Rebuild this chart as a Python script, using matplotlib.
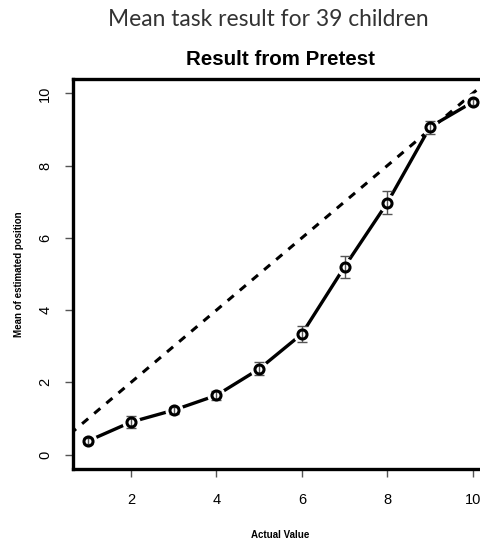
import matplotlib
matplotlib.use("Agg")
import matplotlib.pyplot as plt

actual = [1, 2, 3, 4, 5, 6, 7, 8, 9, 10]
mean_est = [0.38, 0.90, 1.23, 1.64, 2.37, 3.34, 5.20, 6.97, 9.07, 9.76]
err = [0.08, 0.16, 0.10, 0.12, 0.18, 0.21, 0.30, 0.32, 0.18, 0.09]
ticks_x = [2, 4, 6, 8, 10]
ticks_y = [0, 2, 4, 6, 8, 10]

plt.rcParams['font.family'] = ['Liberation Sans', 'DejaVu Sans']

fig = plt.figure(figsize=(4.81, 5.40), dpi=100)
ax = fig.add_axes([0.1518, 0.1315, 0.8628, 0.7222])

# identity line
ax.plot([0, 11], [0, 11], color='black', lw=2.2, linestyle=(0, (2.6, 2.6)), zorder=1)

# observed means, drawn like R type="b"
ax.plot(actual, mean_est, color='black', lw=2.4, zorder=2)
ax.plot(actual, mean_est, 'o', ms=12, color='white', mec='white', zorder=3)
ax.errorbar(actual, mean_est, yerr=err, fmt='none', ecolor='#555555',
            elinewidth=1, capsize=3.5, capthick=1, zorder=4)
ax.plot(actual, mean_est, 'o', ms=6.5, mfc='none', mec='black', mew=2.2, zorder=5)

ax.set_xlim(0.64, 10.36)
ax.set_ylim(-0.4, 10.4)
ax.set_xticks(ticks_x)
ax.set_yticks(ticks_y)
ax.tick_params(axis='both', length=6, width=1, color='#555555', labelsize=10.5)
ax.tick_params(axis='x', pad=11)
ax.tick_params(axis='y', pad=9)
for lab in ax.get_yticklabels():
    lab.set_rotation(90)
    lab.set_va('center')
for s in ax.spines.values():
    s.set_linewidth(2.4)

ax.set_title("Result from Pretest", fontsize=14.8, fontweight='bold', pad=10)
ax.set_xlabel("Actual Value", fontsize=7, fontweight='bold', labelpad=17)
ax.set_ylabel("Mean of estimated position", fontsize=7, fontweight='bold', labelpad=10)

fig.text(0.557, 0.963, "Mean task result for 39 children", ha='center', va='center',
         fontsize=16.4, family='Lato', color='#333333')

fig.savefig("out.png", dpi=100)
